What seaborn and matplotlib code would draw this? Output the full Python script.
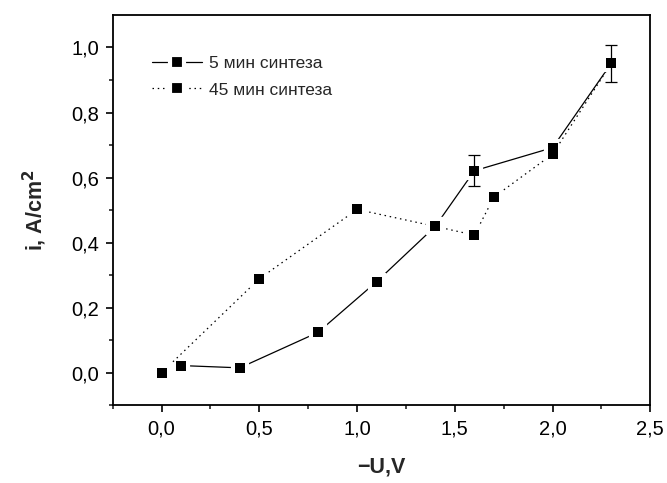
import matplotlib
matplotlib.use("Agg")
import matplotlib.pyplot as plt
import matplotlib.ticker as mticker
import seaborn as sns
import pandas as pd

# Data
x_5min = [0.1, 0.4, 0.8, 1.1, 1.4, 1.6, 2.0, 2.3]
y_5min = [0.022, 0.015, 0.124, 0.28, 0.45, 0.621, 0.692, 0.951]
err_x_5min = [1.6, 2.3]
err_y_5min = [0.621, 0.951]
err_5min = [0.047, 0.058]

x_45min = [0.0, 0.5, 1.0, 1.4, 1.6, 1.7, 2.0, 2.3]
y_45min = [0.0, 0.289, 0.502, 0.45, 0.423, 0.54, 0.672, 0.951]

label_5 = "5 мин синтеза"
label_45 = "45 мин синтеза"

sns.set_theme(style="ticks")
plt.rcParams['font.family'] = ['Liberation Sans', 'DejaVu Sans']

fig = plt.figure(figsize=(6.67, 4.83), dpi=100)
ax = fig.add_axes([0.169, 0.161, 0.806, 0.808])

df5 = pd.DataFrame({"x": x_5min, "y": y_5min})
df45 = pd.DataFrame({"x": x_45min, "y": y_45min})

common = dict(ax=ax, color="black", lw=0.9, marker="s", markersize=10,
              markerfacecolor="black", markeredgecolor="white",
              markeredgewidth=3, sort=False)
sns.lineplot(data=df5, x="x", y="y", label=label_5, **common)
sns.lineplot(data=df45, x="x", y="y", linestyle=(0, (1.2, 3)),
             label=label_45, **common)
# solid black squares on top
sns.scatterplot(data=df5, x="x", y="y", ax=ax, color="black", marker="s",
                s=44, linewidth=0, zorder=4, legend=False)
sns.scatterplot(data=df45, x="x", y="y", ax=ax, color="black", marker="s",
                s=44, linewidth=0, zorder=4, legend=False)
ax.errorbar(err_x_5min, err_y_5min, yerr=err_5min, fmt="none",
            ecolor="black", elinewidth=0.9, capsize=4, capthick=0.9, zorder=5)

ax.set_xlim(-0.25, 2.5)
ax.set_ylim(-0.1, 1.1)
ax.xaxis.set_major_locator(mticker.MultipleLocator(0.5))
ax.xaxis.set_minor_locator(mticker.MultipleLocator(0.25))
ax.yaxis.set_major_locator(mticker.FixedLocator([0, 0.2, 0.4, 0.6, 0.8, 1.0]))
ax.yaxis.set_minor_locator(mticker.FixedLocator([-0.1, 0.1, 0.3, 0.5, 0.7, 0.9]))
fmt = mticker.FuncFormatter(lambda v, p: f"{v:.1f}".replace(".", ","))
ax.xaxis.set_major_formatter(fmt)
ax.yaxis.set_major_formatter(fmt)
ax.tick_params(which="major", direction="out", length=5, width=1.2,
               labelsize=14.5, colors="black", pad=5)
ax.tick_params(which="minor", direction="out", length=3, width=1.2)
for s in ax.spines.values():
    s.set_linewidth(1.3)
    s.set_color("black")

ax.set_xlabel("\u2212U,V", fontsize=15.5, fontweight="bold", labelpad=13)
ax.set_ylabel("i, A/cm$^\\mathbf{2}$", fontsize=15.5, fontweight="bold", labelpad=16)

leg = ax.legend(loc="upper left", bbox_to_anchor=(0.073, 0.895), frameon=False,
                fontsize=12.5, handlelength=2.9, handletextpad=0.4,
                labelspacing=0.65, borderaxespad=0, borderpad=0)

fig.savefig("out.png", dpi=100)
